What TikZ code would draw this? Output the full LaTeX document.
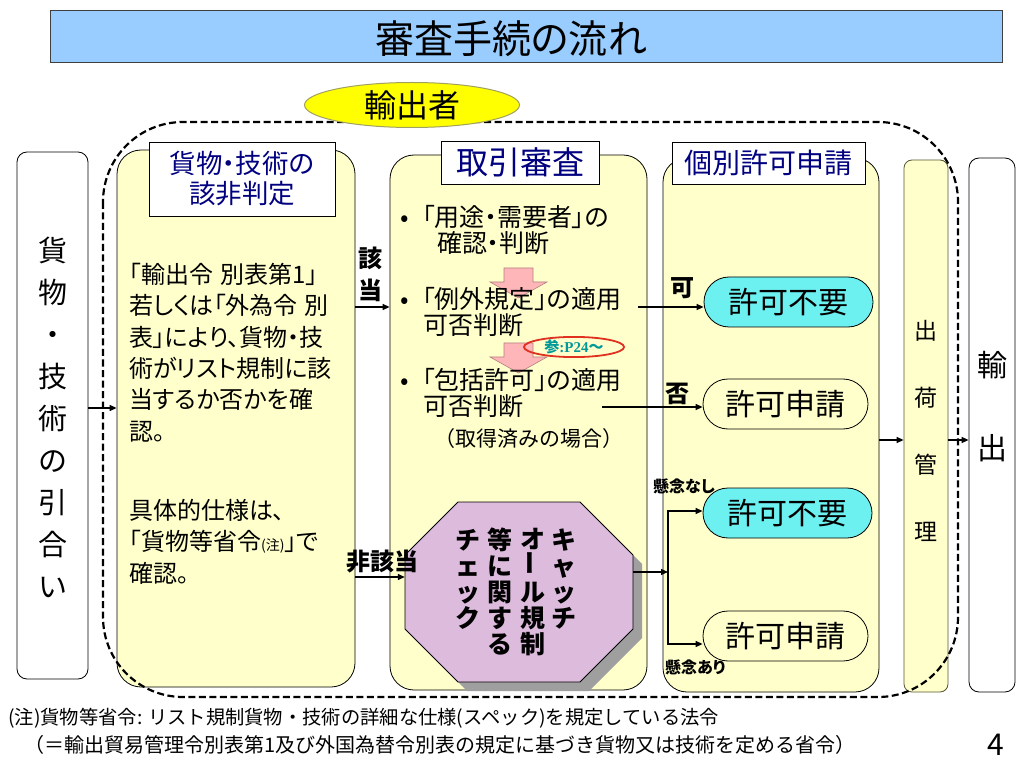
\documentclass[tikz,border=0pt]{standalone}
\usepackage{fontspec}
\setmainfont{Noto Sans CJK JP}[RawFeature=+palt]
\newfontfamily\jpfull{Noto Sans CJK JP}
\newfontfamily\serifb{Liberation Serif}
\usetikzlibrary{arrows.meta,shapes.geometric,shapes.misc}
\definecolor{titleblue}{HTML}{99CCFF}
\definecolor{yfill}{HTML}{FFFFCC}
\definecolor{navyc}{HTML}{000080}
\definecolor{cyanp}{HTML}{6CF0F0}
\definecolor{octc}{HTML}{DDBBDD}
\definecolor{pinkf}{HTML}{FFB6B9}
\definecolor{pinkd}{HTML}{B08080}
\definecolor{tealc}{HTML}{009999}
\definecolor{refred}{HTML}{E03020}
\definecolor{exyel}{HTML}{FFFF00}
\definecolor{exline}{HTML}{A0A060}
\definecolor{shipline}{HTML}{555533}
\newcommand\fsz[2]{\fontsize{#1pt}{#2pt}\selectfont}
\begin{document}
\begin{tikzpicture}[x=1pt,y=-1pt,
  arr/.style={-{Triangle[length=7pt,width=6pt]}, line width=1.3pt},
  ybox/.style={draw=black, fill=yfill, rounded corners=24pt, line width=0.8pt},
  wbox/.style={draw=black, fill=white, rounded corners=10pt, line width=0.8pt},
  tbox/.style={draw=black, fill=white, text=navyc, line width=0.8pt, align=center, inner sep=0pt},
  pill/.style={rounded rectangle, draw=black, line width=0.8pt, minimum height=50pt, inner sep=0pt, font=\fsz{30}{30}},
  lbl/.style={font=\bfseries\fsz{24}{24}, inner sep=0pt},
  para/.style={anchor=north west, align=left, inner sep=0pt},
  vtxt/.style={align=center, inner sep=0pt}
]
\useasboundingbox (0,0) rectangle (1023,767);
\fill[white] (0,0) rectangle (1023,767);

% y levels
\coordinate (y307) at (0,307);
\coordinate (y407) at (0,407);
\coordinate (y408) at (0,408);
\coordinate (y440) at (0,440);
\coordinate (y511) at (0,511);
\coordinate (y572) at (0,572);
\coordinate (y577) at (0,577);
\coordinate (y644) at (0,644);

% title
\node[draw=gray!50!black, fill=titleblue, minimum width=952pt, minimum height=52pt] (title) at (526,36) {};
\node[font=\fsz{39}{39}] (titletxt) at (511,39) {審査手続の流れ};

% big boxes
\node[wbox, minimum width=71pt, minimum height=527pt] (lbox) at (52.5,415.5) {};
\node[ybox, minimum width=238pt, minimum height=537pt] (c1) at (236,418.5) {};
\node[ybox, minimum width=257pt, minimum height=535pt] (c2) at (518.5,422.5) {};
\node[ybox, minimum width=216pt, minimum height=534pt] (c3) at (771,425) {};
\node[draw=shipline, fill=yfill, rounded corners=8pt, line width=0.8pt, minimum width=44pt, minimum height=532pt] (ship) at (926,426) {};
\node[wbox, minimum width=46pt, minimum height=534pt] (expb) at (992,425) {};

% vertical texts
\node[vtxt, font=\jpfull\fsz{29}{42}] (lboxt) at (52.5,417) {貨\\物\\・\\技\\術\\の\\引\\合\\い};
\node[vtxt, font=\fsz{23}{67}] (shipt) at (926,430.5) {出\\荷\\管\\理};
\node[vtxt, font=\fsz{30}{83}] (expt) at (992,406.5) {輸\\出};

% column titles
\node[tbox, minimum width=186pt, minimum height=74pt, font=\fsz{26.5}{30}] (t1) at (242,179) {貨物・技術の\\該非判定};
\node[tbox, minimum width=158pt, minimum height=43pt, font=\fsz{32}{32}] (t2) at (520,162.5) {取引審査};
\node[tbox, minimum width=193pt, minimum height=42pt, font=\fsz{28}{28}] (t3) at (768.5,163) {個別許可申請};

% column 1 text
\node[para, font=\fsz{24}{31.3}] (c1a) at (129,263) {「輸出令\hspace{7pt}別表第1」\\若しくは「外為令\hspace{7pt}別\\表」により、貨物・技\\術がリスト規制に該\\当するか否かを確\\認。};
\node[para, font=\fsz{24}{31.3}] (c1b) at (129,499) {具体的仕様は、\\「貨物等省令{\fsz{14}{14}(注)}」で\\確認。};

% column 2 pink arrows
\draw[fill=pinkf, draw=pinkd, line width=0.6pt] (504,268) -- (533,268) -- (533,282) -- (547,282) -- (518.5,298) -- (490,282) -- (504,282) -- cycle;
\draw[fill=pinkf, draw=pinkd, line width=0.6pt] (504,343) -- (533,343) -- (533,357) -- (547,357) -- (518.5,373) -- (490,357) -- (504,357) -- cycle;

% column 2 text
\node[para, font=\fsz{25}{26}] (b1) at (400,205) {\makebox[22pt][l]{•}「用途・需要者」の\\\hspace*{37pt}確認・判断};
\node[para, font=\fsz{25}{26}] (b2) at (400,287) {\makebox[22pt][l]{•}「例外規定」の適用\\\hspace*{23pt}可否判断};
\node[para, font=\fsz{25}{26}] (b3) at (400,368) {\makebox[22pt][l]{•}「包括許可」の適用\\\hspace*{23pt}可否判断};
\node[font=\jpfull\fsz{21}{21}, inner sep=0pt] (b3n) at (529,439) {（取得済みの場合）};
\node[ellipse, draw=refred, line width=1.8pt, minimum width=100pt, minimum height=19pt, inner sep=0pt, text=tealc, font=\bfseries\fsz{15}{15}] (ref) at (574,347) {参{\serifb\bfseries :P24}～};

% octagon
\fill[gray!75] (467,511) -- (589,511) -- (642,564) -- (642,638) -- (589,691) -- (467,691) -- (414,638) -- (414,564) -- cycle;
\draw[fill=octc, line width=0.8pt] (458,502) -- (580,502) -- (633,555) -- (633,629) -- (580,682) -- (458,682) -- (405,629) -- (405,555) -- cycle;
\node[minimum width=228pt, minimum height=180pt, inner sep=0pt] (oct) at (519,592) {};
\node[vtxt, font=\jpfull\bfseries\fsz{25}{26}] (o1) at (564,579) {キ\\ャ\\ッ\\チ};
\node[vtxt, font=\jpfull\bfseries\fsz{25}{26}] (o2) at (533,592) {オ\\\rotatebox{90}{ー}\\ル\\規\\制};
\node[vtxt, font=\jpfull\bfseries\fsz{25}{26}] (o3) at (500,592) {等\\に\\関\\す\\る};
\node[vtxt, font=\jpfull\bfseries\fsz{25}{26}] (o4) at (468,579) {チ\\ェ\\ッ\\ク};

% pills
\node[pill, fill=cyanp, minimum width=169pt] (p1) at (788.5,302) {許可不要};
\node[pill, fill=yfill, minimum width=165pt] (p2) at (785.5,404) {許可申請};
\node[pill, fill=cyanp, minimum width=169pt] (p3) at (787.5,513) {許可不要};
\node[pill, fill=yfill, minimum width=165pt] (p4) at (785.5,636) {許可申請};

% connectors
\coordinate (k1) at (638,307);
\coordinate (k2) at (602,407);
\coordinate (bj) at (668,572);
\draw[arr] (lbox.east |- y408) -- (c1.west |- y408);
\draw[arr] (c1.east |- y307) -- (c2.west |- y307);
\draw[arr] (c1.east |- y577) -- (oct.west |- y577);
\draw[arr] (k1) -- (p1.west |- y307);
\draw[arr] (k2) -- (p2.west |- y407);
\draw[arr] (oct.east |- y572) -- (bj);
\draw[arr] (bj) |- (p3.west |- y511);
\draw[arr] (bj) |- (p4.west |- y644);
\draw[arr] (c3.east |- y440) -- (ship.west |- y440);
\draw[arr] (ship.east |- y440) -- (expb.west |- y440);

% labels
\node[vtxt, font=\bfseries\fsz{24}{32}] (gai) at (370,274) {該\\当};
\node[lbl] (hig) at (382,562) {非該当};
\node[lbl] (ka) at (682,288) {可};
\node[lbl] (hi) at (677,394) {否};
\node[font=\bfseries\fsz{16}{16}, anchor=west, inner sep=0pt] (kn) at (653,486) {懸念なし};
\node[font=\bfseries\fsz{16}{16}, anchor=west, inner sep=0pt] (ka2) at (665,667) {懸念あり};

% dashed boundary
\draw[line width=2.2pt, dash pattern=on 7pt off 3.5pt, rounded corners=80pt] (103,122) rectangle (958,697);

% exporter
\node[ellipse, draw=exline, fill=exyel, line width=1pt, minimum width=215pt, minimum height=45pt, inner sep=0pt, font=\fsz{32}{32}] (exp) at (412,105) {輸出者};

% notes
\node[anchor=west, inner sep=0pt, font=\jpfull\fsz{19.3}{19.3}] (n1) at (8,718) {(注)貨物等省令: リスト規制貨物・技術の詳細な仕様(スペック)を規定している法令};
\node[anchor=west, inner sep=0pt, font=\jpfull\fsz{20}{20}] (n2) at (24,745) {（＝輸出貿易管理令別表第1及び外国為替令別表の規定に基づき貨物又は技術を定める省令）};
\node[font=\fsz{30}{30}, inner sep=0pt] (pg) at (996,745) {4};
\end{tikzpicture}
\end{document}
